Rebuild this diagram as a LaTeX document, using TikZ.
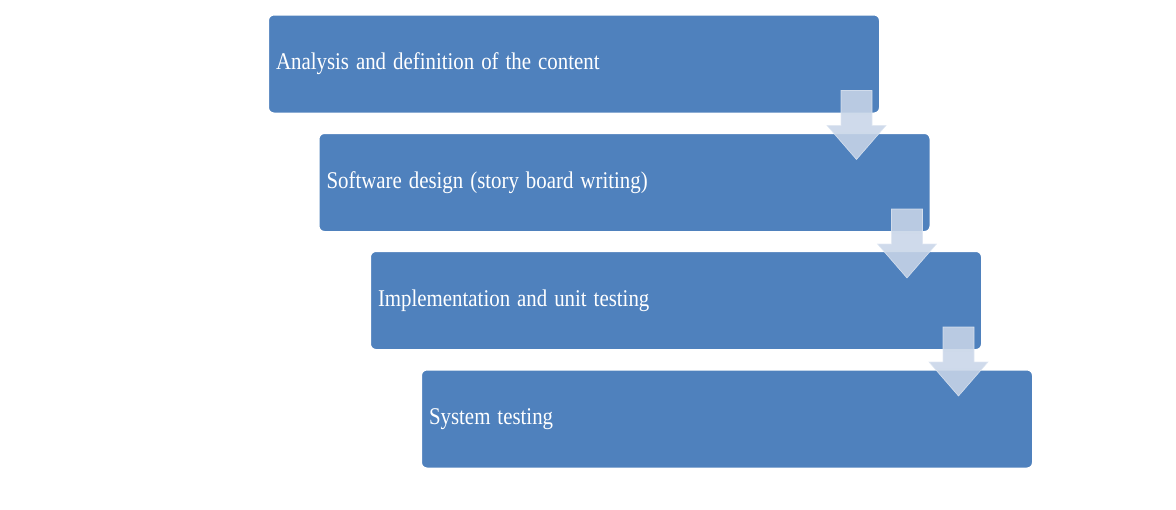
\documentclass[tikz,border=0pt]{standalone}
\usepackage{fontspec}
\setmainfont{Liberation Serif}
\usepackage{graphicx}
\usepackage{tikz}
\definecolor{white}{rgb}{1.0, 1.0, 1.0}
\definecolor{stepblue}{RGB}{79, 129, 189}
\definecolor{arrowgrey}{RGB}{200, 213, 232}
\usetikzlibrary{calc}
\pgfdeclarelayer{boxlayer}
\pgfdeclarelayer{arrowlayer}
\pgfsetlayers{boxlayer,main,arrowlayer}
\newcommand{\narrow}[1]{\scalebox{0.87}[1]{#1}}
\tikzstyle{stepbox}=[rectangle,rounded corners=6pt,fill=stepblue,draw=white,line width=2pt,
    minimum height=99pt,text width=596pt,inner xsep=8pt,align=left,text=white,
    font=\fontsize{24}{28}\selectfont]
\tikzstyle{flowarrow}=[fill=arrowgrey,draw=arrowgrey!60!white,line width=0.6pt,opacity=0.88]

\begin{document}
\begin{tikzpicture}[x=1pt,y=-1pt]
        \useasboundingbox (0,0) rectangle (1176,509);
        \begin{pgfonlayer}{boxlayer}
            \node [style = stepbox] (analysis) at (574, 64) {\narrow{Analysis and definition of the content}};
            \node [style = stepbox] (design) at (624.5, 182.5) {\narrow{Software design (story board writing)}};
            \node [style = stepbox] (impl) at (676, 300.5) {\narrow{Implementation and unit testing}};
            \node [style = stepbox] (systest) at (727, 419) {\narrow{System testing}};
        \end{pgfonlayer}

        \begin{pgfonlayer}{arrowlayer}
            \foreach \from in {analysis, design, impl}
                \draw [style = flowarrow] ($(\from.south east)+(-40,-24)$) -- ++(31,0) -- ++(0,35)
                    -- ++(14,0) -- ++(-29.5,34) -- ++(-29.5,-34) -- ++(14,0) -- cycle;
        \end{pgfonlayer}
    \end{tikzpicture}
\end{document}
